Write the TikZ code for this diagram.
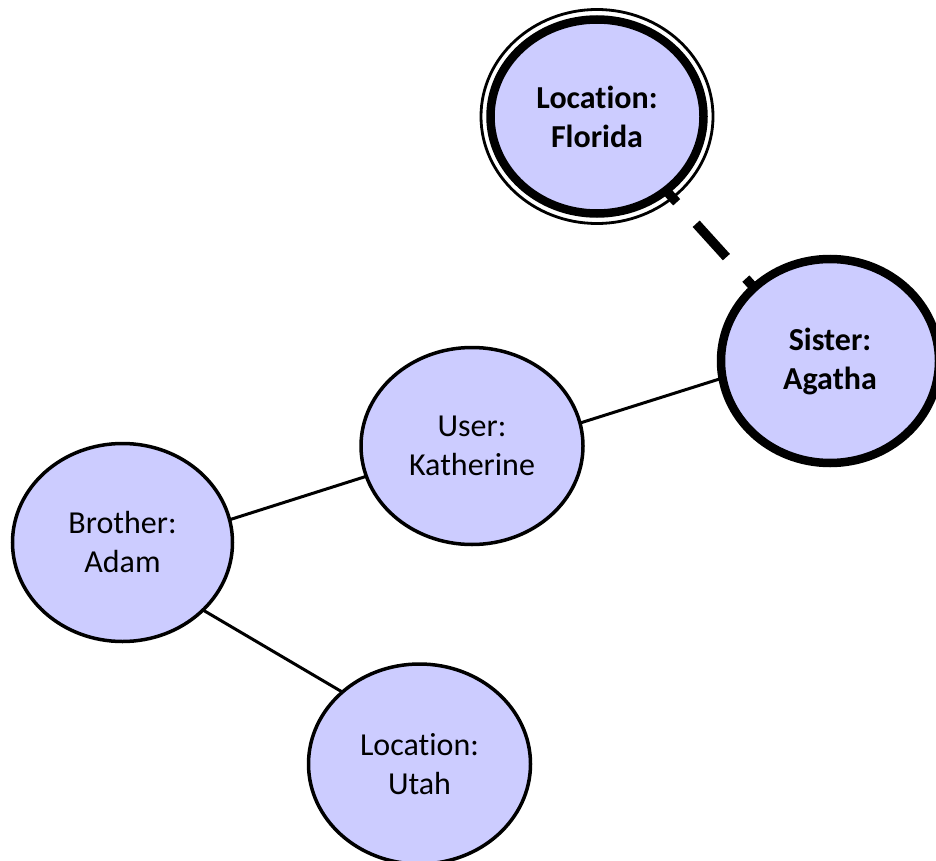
\documentclass[tikz,border=0pt]{standalone}
\usepackage{fontspec}
\setmainfont[Ligatures={NoCommon}, RawFeature={-liga;-clig;-calt}]{Carlito}
\usetikzlibrary{shapes.geometric}
\definecolor{nodefill}{HTML}{CCCCFF}
\tikzset{
  entity/.style={ellipse, draw=black, fill=nodefill, line width=3.5pt,
    inner sep=0pt, outer sep=0pt, minimum width=222pt, minimum height=198pt,
    align=center, font=\fontsize{32}{39}\selectfont},
  keyentity/.style={entity, line width=8.5pt, font=\fontsize{32}{39}\selectfont\bfseries},
  ring/.style={ellipse, draw=black, line width=2.8pt, inner sep=0pt, outer sep=0pt},
  link/.style={line width=3pt, draw=black},
  weaklink/.style={line width=9.5pt, draw=black, dash pattern=on 45pt off 29pt, dash phase=29pt}
}
\begin{document}
\begin{tikzpicture}[x=1pt, y=-1pt]
  \useasboundingbox (0,0) rectangle (936,861);

  % outer thin ring of the Florida node
  \node[ring, minimum width=232pt, minimum height=214pt] (floring) at (597,116.5) {};

  \node[keyentity, minimum width=213pt, minimum height=194pt] (flo) at (597,116.5) {Location:\\Florida};
  \node[keyentity, minimum width=218pt, minimum height=204pt] (aga) at (830,361) {Sister:\\Agatha};
  \node[entity, minimum width=222pt, minimum height=197pt] (kat) at (472,446) {User:\\Katherine};
  \node[entity, minimum width=220pt, minimum height=198pt] (bro) at (122.5,542.5) {Brother:\\Adam};
  \node[entity, minimum width=222pt, minimum height=200pt] (uta) at (419.5,764) {Location:\\Utah};

  % connectors
  \draw[link] (kat.12.5) -- (aga.189.5);
  \draw[link] (kat.196) -- (bro.12.6);
  \draw[link] (bro.-40.8) -- (uta.137.8);
  \draw[weaklink] (flo.-47) -- (aga.136);
\end{tikzpicture}
\end{document}
